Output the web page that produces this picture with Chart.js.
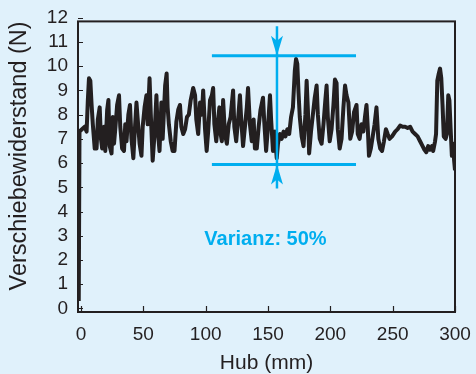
<!DOCTYPE html>
<html>
<head>
<meta charset="utf-8">
<script src="https://cdn.jsdelivr.net/npm/chart.js@4"></script>
<style>
  html, body { margin: 0; padding: 0; background: #e0f1fb; }
  #wrap { width: 476px; height: 374px; }
</style>
</head>
<body>
<div id="wrap"><canvas id="myChart" width="476" height="374"></canvas></div>
<script>
// Hub (mm) und Verschiebewiderstand (N)
const hubMm = [
  -1.8, -1.2, 3, 4.5, 5.5, 6.4, 7.5, 8.5, 9.5, 11, 12.5, 13.5, 15, 16, 17, 18.5, 19.5, 21, 22, 23,
  24.5, 25.5, 26.5, 27.5, 29, 30.5, 31.5, 33, 34.5, 35.5, 36.5, 38, 39.3, 40.5, 42, 43, 44.5, 45.5, 47, 48.5,
  49.5, 51, 52.5, 53.5, 55, 56, 57.5, 59, 60.5, 61.5, 63, 64.5, 65.5, 67.5, 68.7, 69.5, 70.5, 72, 73.5, 75,
  76.5, 78, 79.4, 80.5, 82, 83.5, 85, 86.5, 88, 90, 91.5, 92.5, 94, 95.5, 97, 98, 99.5, 100.8, 102, 103.5,
  105, 106, 107, 108.5, 110, 111, 112, 113, 114, 115.5, 117, 118.5, 120, 122, 123, 124.5, 126, 127.5, 128.5, 130,
  131.5, 133, 134, 135.5, 137, 138.5, 139.5, 141, 142.5, 144, 146, 147, 148.5, 150, 151.6, 152.5, 154, 155.5, 157, 158,
  159.5, 161, 162.5, 164, 165.5, 167, 168.5, 170, 171.5, 172.5, 173.5, 174.5, 175.5, 177, 178.5, 180, 181, 182, 183, 184.5,
  186, 187.5, 189, 190, 191.5, 193, 194.5, 196, 197, 198, 199.5, 201, 202.5, 203.7, 205, 206, 207.5, 209, 210.5, 211.8,
  213, 214.5, 216, 217.5, 219, 221, 222, 223.5, 225, 226.5, 228, 229, 230, 231, 232.5, 234, 235.5, 237, 238.5, 240,
  241.5, 243, 244.6, 246, 247.5, 249.5, 252, 254, 256, 258, 260, 262, 264, 266, 268, 270, 272, 274, 275.5, 277,
  278.5, 280, 281.5, 282.5, 284, 284.8, 285.8, 287, 288, 289, 290, 291, 292.5, 293.5, 294.6, 295.5, 296.5, 297.5, 298.5, 299.3,
  300
];
const kraftN = [
  0.3, 7.3, 7.5, 7.3, 8.6, 9.5, 9.4, 8.4, 7.6, 6.6, 6.6, 7.8, 8.3, 7.0, 6.6, 7.5, 6.5, 8.2, 8.6, 6.7,
  6.4, 7.9, 6.8, 7.4, 8.4, 8.8, 7.5, 6.6, 6.5, 7.6, 6.9, 8.0, 8.4, 7.0, 6.2, 7.2, 8.5, 7.8, 6.8, 6.3,
  7.5, 8.3, 8.8, 7.6, 9.5, 8.0, 6.1, 7.2, 8.8, 7.4, 6.5, 8.5, 7.0, 9.2, 9.7, 8.3, 7.6, 6.9, 6.5, 6.5,
  7.7, 8.2, 8.4, 7.5, 7.2, 7.4, 7.9, 8.0, 8.6, 9.1, 8.8, 7.8, 7.2, 8.5, 8.0, 9.0, 7.4, 6.5, 7.3, 8.6,
  8.8, 9.1, 7.6, 6.9, 7.8, 8.3, 7.2, 6.9, 8.6, 7.2, 6.8, 7.6, 7.9, 9.0, 7.5, 6.9, 7.8, 8.8, 7.8, 6.7,
  7.5, 8.3, 9.1, 7.6, 6.9, 7.8, 6.6, 6.6, 7.5, 8.2, 8.7, 7.7, 6.5, 7.5, 8.8, 7.8, 6.5, 7.3, 6.2, 6.8,
  7.2, 7.0, 7.3, 7.1, 7.4, 7.2, 7.9, 8.3, 9.8, 10.3, 10.1, 8.9, 7.9, 7.1, 6.7, 8.0, 9.4, 8.2, 6.4, 7.3,
  8.0, 8.7, 9.2, 8.0, 7.0, 6.8, 7.6, 8.6, 9.2, 7.9, 6.9, 7.4, 8.4, 9.45, 9.3, 7.4, 6.6, 7.0, 8.3, 9.2,
  8.8, 8.5, 7.0, 7.3, 8.1, 8.4, 7.2, 7.0, 7.6, 7.3, 8.0, 8.4, 7.5, 6.3, 6.6, 7.1, 7.6, 8.3, 7.0, 6.6,
  6.5, 6.9, 7.4, 7.2, 7.0, 7.1, 7.3, 7.4, 7.55, 7.5, 7.5, 7.45, 7.5, 7.3, 7.2, 7.1, 6.9, 6.7, 6.55, 6.45,
  6.7, 6.55, 6.7, 6.5, 6.9, 7.2, 9.4, 9.7, 9.9, 9.5, 8.4, 7.1, 7.0, 7.2, 8.8, 8.6, 7.4, 6.3, 6.8, 6.1,
  5.7
];
const xTicks = [0, 50, 100, 150, 200, 250, 300];
const yTicks = [0, 1, 2, 3, 4, 5, 6, 7, 8, 9, 10, 11, 12];

// Varianz-Markierung
const bandTop = 10.43;
const bandBottom = 5.94;
const bandFrom = 105;
const bandTo = 220.6;
const arrowX = 157.2;
const arrowTopStart = 11.65;
const arrowBottomEnd = 4.95;
const varianzText = 'Varianz: 50%';
const varianzPos = [148, 2.84];

const ink = '#231f20';
const cyan = '#00aeef';

function arrowHead(ctx, x, tipY, dir) {
    // dir = 1 zeigt nach unten, -1 nach oben
    const h = 20, w = 6, notch = 5;
    ctx.beginPath();
    ctx.moveTo(x, tipY);
    ctx.lineTo(x - w, tipY - dir * h);
    ctx.lineTo(x, tipY - dir * (h - notch));
    ctx.lineTo(x + w, tipY - dir * h);
    ctx.closePath();
    ctx.fill();
}

const framePlugin = {
    id: 'frame',
    afterDatasetsDraw(chart) {
        const { ctx, chartArea: a, scales: { x, y } } = chart;
        ctx.save();
        // Rahmen
        ctx.strokeStyle = ink;
        ctx.lineWidth = 2;
        ctx.strokeRect(a.left, a.top, a.right - a.left, a.bottom - a.top);
        // kurze Striche nach innen
        ctx.lineWidth = 1.2;
        ctx.beginPath();
        yTicks.forEach(v => {
            const py = Math.round(y.getPixelForValue(v)) + 0.5;
            ctx.moveTo(a.left, py);
            ctx.lineTo(a.left + 5, py);
        });
        xTicks.forEach(v => {
            const px = Math.round(x.getPixelForValue(v)) + 0.5;
            ctx.moveTo(px, a.bottom);
            ctx.lineTo(px, a.bottom - 6);
        });
        ctx.stroke();

        // Varianz-Band
        ctx.strokeStyle = cyan;
        ctx.fillStyle = cyan;
        ctx.lineWidth = 3;
        const x0 = x.getPixelForValue(bandFrom), x1 = x.getPixelForValue(bandTo);
        const yT = y.getPixelForValue(bandTop), yB = y.getPixelForValue(bandBottom);
        const ax = x.getPixelForValue(arrowX);
        ctx.beginPath();
        ctx.moveTo(x0, yT); ctx.lineTo(x1, yT);
        ctx.moveTo(x0, yB); ctx.lineTo(x1, yB);
        ctx.stroke();
        ctx.lineWidth = 2.5;
        ctx.beginPath();
        ctx.moveTo(ax, y.getPixelForValue(arrowTopStart));
        ctx.lineTo(ax, y.getPixelForValue(arrowBottomEnd));
        ctx.stroke();
        arrowHead(ctx, ax, yT, 1);
        arrowHead(ctx, ax, yB, -1);

        ctx.font = 'bold 20px "Liberation Sans", Arial, sans-serif';
        ctx.textAlign = 'center';
        ctx.textBaseline = 'middle';
        ctx.fillText(varianzText, x.getPixelForValue(varianzPos[0]), y.getPixelForValue(varianzPos[1]));
        ctx.restore();
    }
};

const ctx = document.getElementById('myChart').getContext('2d');
new Chart(ctx, {
    type: 'line',
    data: {
        datasets: [{
            data: hubMm.map((h, i) => ({ x: h, y: kraftN[i] })),
            borderColor: ink,
            borderWidth: 4,
            borderJoinStyle: 'round',
            pointRadius: 0,
            tension: 0,
            fill: false
        }]
    },
    options: {
        responsive: false,
        animation: false,
        layout: { padding: { left: 0, right: 21, top: 21, bottom: 0 } },
        plugins: { legend: { display: false }, tooltip: { enabled: false } },
        scales: {
            x: {
                type: 'linear',
                min: -2.4,
                max: 300,
                afterBuildTicks: s => { s.ticks = xTicks.map(v => ({ value: v })); },
                afterFit: s => { s.height = 62; s.paddingLeft = 0; s.paddingRight = 0; },
                grid: { display: false, drawTicks: false },
                border: { display: false },
                ticks: {
                    color: ink,
                    padding: 11,
                    autoSkip: false,
                    maxRotation: 0,
                    font: { family: '"Liberation Sans", Arial, sans-serif', size: 19 }
                },
                title: {
                    display: true,
                    text: 'Hub (mm)',
                    color: ink,
                    padding: 0,
                    font: { family: '"Liberation Sans", Arial, sans-serif', size: 21, lineHeight: 1 }
                }
            },
            y: {
                min: -0.15,
                max: 11.85,
                afterBuildTicks: s => { s.ticks = yTicks.map(v => ({ value: v })); },
                afterFit: s => { s.width = 78; },
                grid: { display: false, drawTicks: false },
                border: { display: false },
                ticks: {
                    color: ink,
                    padding: 10,
                    autoSkip: false,
                    font: { family: '"Liberation Sans", Arial, sans-serif', size: 19 }
                },
                title: {
                    display: true,
                    text: 'Verschiebewiderstand (N)',
                    color: ink,
                    align: 'end',
                    padding: { top: 8, bottom: 0 },
                    font: { family: '"Liberation Sans", Arial, sans-serif', size: 23.5, lineHeight: 1 }
                }
            }
        }
    },
    plugins: [framePlugin]
});
</script>
</body>
</html>
